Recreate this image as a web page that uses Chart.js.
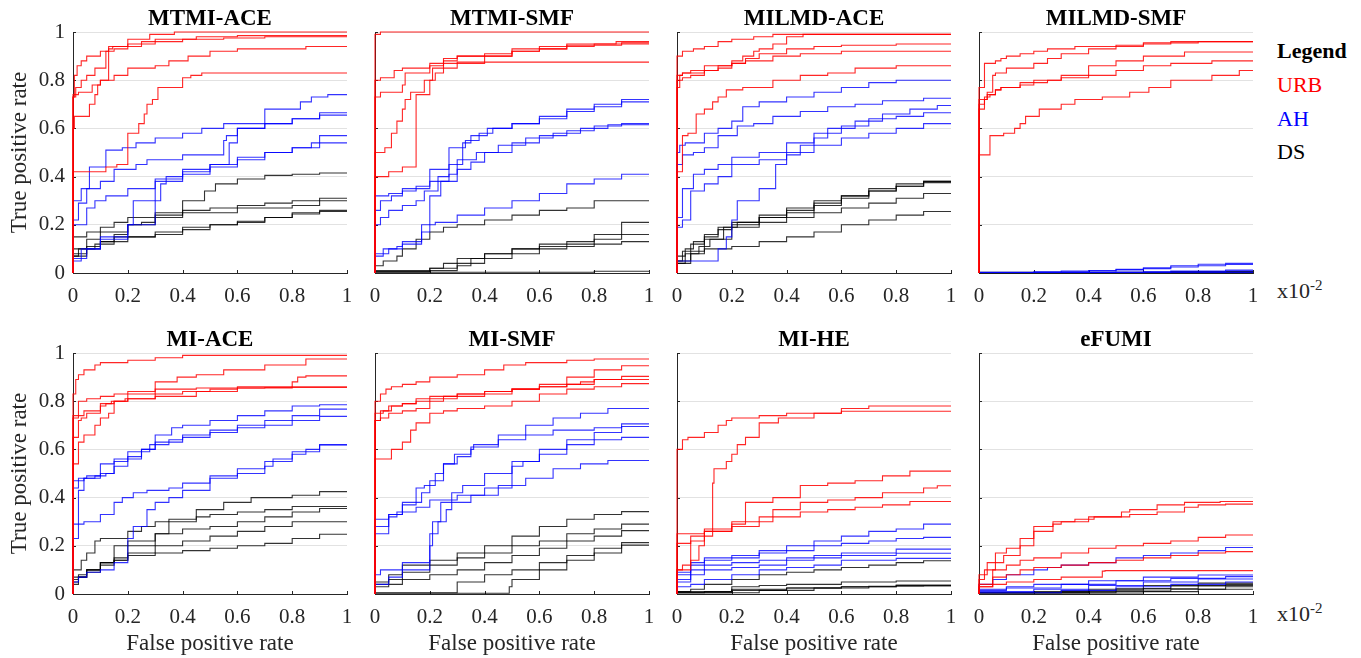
<!DOCTYPE html>
<html>
<head>
<meta charset="utf-8">
<script src="https://cdn.jsdelivr.net/npm/chart.js@4"></script>
<style>
body { margin: 0; width: 1361px; height: 658px; background: #fff; overflow: hidden; position: relative; font-family: "Liberation Serif", serif; }
canvas { position: absolute; }
.lbl { position: absolute; font-size: 22px; line-height: 1; white-space: nowrap; color: #000; }
.lbl sup { font-size: 15px; vertical-align: 8px; line-height: 0; }
</style>
</head>
<body>
<div class="lbl" style="left:1277px; top:40px; font-weight:bold;">Legend</div>
<div class="lbl" style="left:1277px; top:74px; color:#ff0000;">URB</div>
<div class="lbl" style="left:1277px; top:108px; color:#0000ff;">AH</div>
<div class="lbl" style="left:1277px; top:141px;">DS</div>
<div class="lbl" style="left:1277px; top:280px; color:#262626;">x10<sup>-2</sup></div>
<div class="lbl" style="left:1277px; top:603px; color:#262626;">x10<sup>-2</sup></div>
<script>
// each curve: x,y pairs where the ROC steps to a new true positive rate
const panelTitles = ['MTMI-ACE', 'MTMI-SMF', 'MILMD-ACE', 'MILMD-SMF', 'MI-ACE', 'MI-SMF', 'MI-HE', 'eFUMI'];
const axisTicks = [0, 0.2, 0.4, 0.6, 0.8, 1];

const mtmiAceURB = [
    [0,0.45, 0.005,0.73, 0.015,0.82, 0.03,0.86, 0.05,0.88, 0.1,0.9, 0.13,0.92, 0.2,0.94, 0.28,0.97, 0.37,0.99, 0.55,1.0, 1,1.0],
    [0,0.6, 0.01,0.73, 0.03,0.77, 0.05,0.8, 0.08,0.82, 0.12,0.85, 0.15,0.92, 0.2,0.93, 0.3,0.95, 0.45,0.97, 0.6,0.98, 1,0.985],
    [0,0.25, 0.005,0.6, 0.06,0.65, 0.08,0.7, 0.09,0.74, 0.1,0.78, 0.13,0.8, 0.145,0.93, 0.25,0.94, 0.4,0.96, 0.55,0.97, 0.7,0.975, 1,0.98],
    [0,0.72, 0.02,0.74, 0.07,0.75, 0.1,0.78, 0.15,0.8, 0.2,0.82, 0.3,0.85, 0.35,0.86, 0.42,0.88, 0.5,0.9, 0.6,0.92, 0.85,0.93, 0.93,0.94, 1,0.94],
    [0,0.41, 0.12,0.42, 0.16,0.44, 0.2,0.45, 0.24,0.58, 0.26,0.62, 0.27,0.66, 0.29,0.7, 0.31,0.72, 0.4,0.77, 0.43,0.81, 0.47,0.82, 0.5,0.83, 1,0.83]
];
const mtmiAceAH = [
    [0,0.26, 0.03,0.3, 0.06,0.35, 0.12,0.44, 0.18,0.51, 0.23,0.52, 0.3,0.54, 0.4,0.56, 0.47,0.58, 0.55,0.6, 0.7,0.62, 0.83,0.68, 0.87,0.71, 0.93,0.73, 1,0.74],
    [0,0.2, 0.02,0.22, 0.05,0.29, 0.1,0.35, 0.15,0.38, 0.23,0.43, 0.27,0.45, 0.4,0.47, 0.55,0.49, 0.56,0.55, 0.6,0.57, 0.7,0.6, 0.8,0.62, 0.9,0.64, 1,0.665],
    [0,0.02, 0.03,0.05, 0.1,0.1, 0.2,0.15, 0.3,0.2, 0.32,0.3, 0.34,0.37, 0.4,0.4, 0.5,0.43, 0.57,0.45, 0.6,0.54, 0.7,0.6, 0.8,0.62, 0.9,0.64, 1,0.655],
    [0,0.16, 0.05,0.2, 0.08,0.27, 0.12,0.3, 0.2,0.32, 0.3,0.35, 0.4,0.39, 0.5,0.42, 0.6,0.45, 0.7,0.48, 0.8,0.5, 0.87,0.52, 0.9,0.54, 1,0.57],
    [0,0.02, 0.05,0.06, 0.1,0.1, 0.2,0.14, 0.22,0.2, 0.3,0.3, 0.4,0.38, 0.5,0.41, 0.6,0.44, 0.7,0.47, 0.8,0.5, 0.9,0.52, 1,0.54]
];
const mtmiAceDS = [
    [0,0.05, 0.05,0.1, 0.1,0.14, 0.2,0.17, 0.3,0.2, 0.4,0.24, 0.48,0.3, 0.52,0.34, 0.6,0.37, 0.7,0.39, 0.8,0.405, 0.9,0.41, 1,0.415],
    [0,0.13, 0.05,0.15, 0.1,0.17, 0.15,0.19, 0.2,0.21, 0.3,0.23, 0.4,0.25, 0.5,0.26, 0.6,0.27, 0.7,0.28, 0.8,0.29, 0.9,0.3, 1,0.31],
    [0,0.02, 0.05,0.07, 0.1,0.1, 0.15,0.13, 0.2,0.16, 0.25,0.2, 0.3,0.21, 0.4,0.23, 0.6,0.25, 0.8,0.27, 0.9,0.28, 1,0.3],
    [0,0.03, 0.05,0.08, 0.1,0.11, 0.2,0.13, 0.3,0.15, 0.4,0.16, 0.5,0.18, 0.6,0.2, 0.7,0.21, 0.8,0.23, 0.9,0.25, 1,0.26],
    [0,0.06, 0.02,0.07, 0.08,0.1, 0.15,0.12, 0.3,0.15, 0.4,0.17, 0.5,0.19, 0.6,0.2, 0.7,0.215, 0.8,0.23, 0.9,0.245, 1,0.255]
];

const mtmiSmfURB = [
    [0,0.9, 0.02,0.99, 0.48,1.0, 1,1.0],
    [0,0.73, 0.02,0.8, 0.07,0.81, 0.1,0.84, 0.2,0.85, 0.25,0.87, 0.3,0.89, 0.4,0.9, 0.5,0.91, 0.6,0.93, 0.7,0.94, 0.88,0.95, 1,0.96],
    [0,0.625, 0.02,0.73, 0.1,0.75, 0.11,0.78, 0.2,0.83, 0.25,0.86, 0.3,0.88, 0.5,0.9, 0.6,0.92, 0.7,0.93, 0.9,0.945, 1,0.95],
    [0,0.42, 0.036,0.5, 0.06,0.52, 0.08,0.58, 0.1,0.63, 0.11,0.68, 0.13,0.72, 0.18,0.75, 0.21,0.8, 0.25,0.85, 0.3,0.87, 0.4,0.875, 1,0.875],
    [0,0.39, 0.05,0.4, 0.1,0.42, 0.15,0.44, 0.2,0.74, 0.22,0.8, 0.25,0.83, 0.3,0.85, 0.4,0.87, 0.5,0.9, 0.6,0.92, 0.7,0.93, 0.8,0.94, 0.9,0.95, 1,0.955]
];
const mtmiSmfAH = [
    [0,0.305, 0.05,0.32, 0.1,0.33, 0.2,0.35, 0.27,0.43, 0.33,0.52, 0.38,0.55, 0.43,0.58, 0.5,0.6, 0.6,0.62, 0.7,0.65, 0.8,0.68, 0.9,0.7, 1,0.72],
    [0,0.16, 0.02,0.26, 0.06,0.3, 0.1,0.32, 0.15,0.34, 0.2,0.36, 0.23,0.38, 0.27,0.4, 0.32,0.45, 0.35,0.54, 0.41,0.57, 0.5,0.6, 0.6,0.62, 0.7,0.64, 0.8,0.67, 0.9,0.69, 1,0.71],
    [0,0.04, 0.03,0.07, 0.08,0.1, 0.1,0.11, 0.17,0.13, 0.2,0.2, 0.24,0.32, 0.3,0.38, 0.35,0.43, 0.4,0.46, 0.5,0.5, 0.6,0.54, 0.7,0.57, 0.8,0.59, 0.9,0.61, 1,0.62],
    [0,0.14, 0.02,0.2, 0.05,0.23, 0.1,0.26, 0.15,0.28, 0.18,0.3, 0.23,0.34, 0.27,0.38, 0.3,0.41, 0.37,0.47, 0.45,0.5, 0.55,0.53, 0.65,0.56, 0.75,0.58, 0.85,0.6, 1,0.615],
    [0,0.06, 0.05,0.08, 0.1,0.1, 0.17,0.12, 0.2,0.17, 0.22,0.2, 0.3,0.21, 0.4,0.24, 0.5,0.27, 0.6,0.3, 0.7,0.33, 0.8,0.37, 0.9,0.39, 1,0.41]
];
const mtmiSmfDS = [
    [0,0.01, 0.03,0.03, 0.08,0.05, 0.1,0.07, 0.15,0.1, 0.2,0.14, 0.25,0.17, 0.3,0.19, 0.4,0.2, 0.5,0.22, 0.6,0.24, 0.7,0.26, 0.8,0.27, 0.9,0.3, 1,0.3],
    [0,0, 0.3,0.01, 0.35,0.03, 0.4,0.06, 0.5,0.08, 0.6,0.1, 0.7,0.11, 0.8,0.13, 0.9,0.16, 1,0.21],
    [0,0, 0.2,0.005, 0.25,0.02, 0.3,0.04, 0.4,0.06, 0.5,0.08, 0.6,0.1, 0.8,0.12, 0.9,0.14, 1,0.16],
    [0,0, 0.2,0.005, 0.3,0.02, 0.4,0.04, 0.5,0.06, 0.6,0.08, 0.7,0.1, 0.8,0.11, 0.9,0.12, 1,0.13],
    [0,0, 0.8,0.003, 1,0.007]
];

const milmdAceURB = [
    [0,0.88, 0.02,0.9, 0.06,0.92, 0.1,0.93, 0.15,0.94, 0.2,0.96, 0.28,0.97, 0.35,0.98, 0.46,0.99, 1,0.99],
    [0,0.4, 0.01,0.77, 0.02,0.82, 0.05,0.83, 0.1,0.84, 0.2,0.86, 0.24,0.88, 0.28,0.9, 0.3,0.92, 0.35,0.93, 0.4,0.95, 0.46,0.98, 0.55,0.99, 1,0.99],
    [0,0.78, 0.02,0.8, 0.05,0.81, 0.1,0.82, 0.15,0.84, 0.2,0.85, 0.25,0.87, 0.3,0.89, 0.4,0.91, 0.5,0.93, 0.6,0.94, 0.8,0.945, 1,0.95],
    [0,0.79, 0.02,0.82, 0.1,0.83, 0.15,0.84, 0.2,0.86, 0.25,0.87, 0.35,0.88, 0.45,0.9, 0.6,0.91, 0.8,0.92, 1,0.92],
    [0,0.38, 0.02,0.42, 0.04,0.57, 0.07,0.58, 0.1,0.66, 0.13,0.68, 0.15,0.71, 0.18,0.73, 0.24,0.76, 0.35,0.77, 0.45,0.8, 0.55,0.82, 0.65,0.83, 0.8,0.85, 0.9,0.86, 1,0.86]
];
const milmdAceAH = [
    [0,0.36, 0.01,0.5, 0.03,0.53, 0.1,0.54, 0.15,0.58, 0.2,0.6, 0.24,0.63, 0.3,0.69, 0.4,0.71, 0.5,0.73, 0.6,0.75, 0.7,0.77, 0.8,0.79, 1,0.8],
    [0,0.22, 0.02,0.45, 0.06,0.49, 0.1,0.5, 0.15,0.52, 0.22,0.57, 0.28,0.61, 0.35,0.62, 0.45,0.65, 0.55,0.67, 0.65,0.69, 0.75,0.7, 0.9,0.715, 1,0.725],
    [0,0.02, 0.15,0.05, 0.18,0.1, 0.2,0.15, 0.22,0.22, 0.3,0.3, 0.36,0.35, 0.4,0.45, 0.45,0.49, 0.5,0.53, 0.55,0.56, 0.65,0.6, 0.75,0.63, 0.85,0.66, 0.95,0.68, 1,0.695],
    [0,0.13, 0.02,0.23, 0.06,0.35, 0.1,0.41, 0.15,0.43, 0.2,0.45, 0.3,0.48, 0.4,0.5, 0.5,0.54, 0.6,0.58, 0.7,0.61, 0.8,0.64, 0.9,0.65, 1,0.665],
    [0,0.04, 0.02,0.19, 0.05,0.22, 0.1,0.34, 0.15,0.37, 0.2,0.4, 0.3,0.45, 0.4,0.47, 0.5,0.5, 0.6,0.53, 0.7,0.56, 0.8,0.58, 0.9,0.6, 1,0.62]
];
const milmdAceDS = [
    [0,0.02, 0.02,0.05, 0.05,0.09, 0.1,0.12, 0.15,0.15, 0.2,0.18, 0.3,0.2, 0.4,0.23, 0.5,0.26, 0.6,0.29, 0.7,0.32, 0.8,0.34, 0.9,0.36, 1,0.38],
    [0,0.03, 0.03,0.07, 0.06,0.1, 0.1,0.13, 0.15,0.16, 0.2,0.19, 0.3,0.21, 0.4,0.24, 0.5,0.27, 0.6,0.3, 0.7,0.32, 0.8,0.35, 0.9,0.37, 1,0.38],
    [0,0.01, 0.03,0.04, 0.08,0.08, 0.12,0.11, 0.17,0.14, 0.22,0.19, 0.3,0.21, 0.4,0.23, 0.5,0.25, 0.6,0.28, 0.7,0.31, 0.8,0.34, 0.9,0.36, 1,0.375],
    [0,0.01, 0.05,0.05, 0.1,0.09, 0.2,0.14, 0.3,0.19, 0.4,0.21, 0.5,0.23, 0.6,0.25, 0.7,0.27, 0.8,0.29, 0.9,0.31, 1,0.33],
    [0,0.005, 0.05,0.04, 0.1,0.08, 0.2,0.1, 0.3,0.11, 0.4,0.13, 0.5,0.15, 0.6,0.17, 0.7,0.2, 0.8,0.22, 0.9,0.24, 1,0.255]
];

const milmdSmfURB = [
    [0,0.72, 0.02,0.77, 0.06,0.87, 0.08,0.88, 0.1,0.89, 0.15,0.9, 0.2,0.91, 0.25,0.92, 0.35,0.93, 0.5,0.94, 0.6,0.945, 0.8,0.955, 1,0.96],
    [0,0.47, 0.03,0.72, 0.05,0.75, 0.06,0.82, 0.1,0.83, 0.2,0.85, 0.25,0.87, 0.3,0.89, 0.4,0.91, 0.5,0.93, 0.6,0.94, 0.7,0.95, 0.85,0.96, 1,0.96],
    [0,0.6, 0.02,0.7, 0.04,0.73, 0.06,0.74, 0.08,0.76, 0.15,0.77, 0.25,0.79, 0.3,0.8, 0.4,0.82, 0.5,0.86, 0.6,0.88, 0.75,0.9, 1,0.917],
    [0,0.58, 0.02,0.68, 0.03,0.72, 0.06,0.74, 0.08,0.76, 0.15,0.77, 0.2,0.78, 0.3,0.8, 0.4,0.81, 0.5,0.82, 0.6,0.84, 0.7,0.86, 0.85,0.87, 1,0.88],
    [0,0.4, 0.04,0.49, 0.09,0.57, 0.13,0.58, 0.15,0.6, 0.17,0.62, 0.22,0.65, 0.3,0.68, 0.35,0.7, 0.45,0.72, 0.55,0.73, 0.62,0.75, 0.7,0.77, 0.85,0.8, 0.95,0.82, 1,0.84]
];
const milmdSmfAH = [
    [0,0, 0.2,0.002, 0.4,0.005, 0.5,0.01, 0.6,0.015, 0.7,0.022, 0.8,0.03, 0.9,0.036, 1,0.04],
    [0,0, 0.3,0.003, 0.5,0.008, 0.6,0.013, 0.7,0.018, 0.8,0.025, 0.9,0.03, 1,0.035],
    [0,0, 0.5,0.002, 0.7,0.004, 0.9,0.008, 1,0.012],
    [0,0, 0.6,0.002, 0.9,0.005, 1,0.008],
    [0,0, 1,0.002]
];
const milmdSmfDS = [
    [0,0, 0.7,0.002, 1,0.006],
    [0,0, 0.8,0.003, 1,0.004],
    [0,0, 1,0.002],
    [0,0, 1,0.001],
    [0,0, 0.9,0.002, 1,0.003]
];

const miAceURB = [
    [0,0.81, 0.01,0.83, 0.02,0.89, 0.04,0.91, 0.08,0.93, 0.1,0.95, 0.2,0.96, 0.3,0.97, 0.4,0.98, 0.55,0.99, 1,0.99],
    [0,0.7, 0.02,0.73, 0.05,0.8, 0.1,0.81, 0.15,0.82, 0.3,0.83, 0.38,0.88, 0.45,0.9, 0.55,0.91, 0.7,0.93, 0.85,0.95, 0.9,0.975, 1,0.975],
    [0,0.61, 0.02,0.65, 0.03,0.72, 0.05,0.73, 0.1,0.75, 0.12,0.78, 0.15,0.79, 0.2,0.8, 0.3,0.81, 0.4,0.83, 0.5,0.84, 0.6,0.85, 0.8,0.86, 0.82,0.88, 0.85,0.9, 1,0.905],
    [0,0.36, 0.02,0.54, 0.04,0.63, 0.08,0.66, 0.1,0.7, 0.13,0.73, 0.15,0.75, 0.19,0.8, 0.3,0.81, 0.45,0.82, 0.6,0.84, 0.8,0.855, 1,0.86],
    [0,0.35, 0.04,0.74, 0.1,0.76, 0.14,0.79, 0.2,0.8, 0.3,0.84, 0.45,0.85, 0.7,0.855, 1,0.857]
];
const miAceAH = [
    [0,0.22, 0.02,0.44, 0.05,0.48, 0.1,0.49, 0.15,0.5, 0.2,0.55, 0.25,0.57, 0.3,0.6, 0.36,0.66, 0.4,0.69, 0.5,0.7, 0.6,0.72, 0.7,0.74, 0.8,0.76, 0.9,0.78, 1,0.785],
    [0,0.25, 0.04,0.47, 0.1,0.48, 0.15,0.54, 0.2,0.56, 0.28,0.59, 0.35,0.62, 0.4,0.64, 0.5,0.66, 0.6,0.68, 0.7,0.7, 0.8,0.72, 0.9,0.74, 1,0.767],
    [0,0.13, 0.02,0.23, 0.04,0.43, 0.08,0.48, 0.12,0.49, 0.15,0.5, 0.2,0.53, 0.25,0.56, 0.3,0.6, 0.4,0.63, 0.5,0.65, 0.6,0.67, 0.7,0.69, 0.8,0.7, 0.9,0.72, 1,0.737],
    [0,0.26, 0.04,0.29, 0.1,0.3, 0.15,0.33, 0.18,0.38, 0.22,0.4, 0.27,0.42, 0.35,0.43, 0.4,0.44, 0.5,0.46, 0.6,0.49, 0.7,0.52, 0.8,0.55, 0.85,0.58, 0.9,0.6, 1,0.62],
    [0,0.02, 0.02,0.05, 0.05,0.07, 0.1,0.09, 0.15,0.1, 0.2,0.13, 0.22,0.23, 0.27,0.28, 0.3,0.35, 0.35,0.38, 0.4,0.4, 0.5,0.43, 0.6,0.48, 0.7,0.5, 0.73,0.53, 0.8,0.56, 0.9,0.59, 1,0.618]
];
const miAceDS = [
    [0,0.07, 0.03,0.1, 0.05,0.14, 0.08,0.17, 0.1,0.22, 0.2,0.23, 0.25,0.26, 0.3,0.28, 0.35,0.3, 0.45,0.31, 0.55,0.35, 0.65,0.38, 0.8,0.4, 0.9,0.41, 1,0.425],
    [0,0.04, 0.05,0.07, 0.1,0.1, 0.15,0.13, 0.2,0.14, 0.3,0.2, 0.35,0.25, 0.45,0.3, 0.5,0.32, 0.6,0.33, 0.7,0.34, 0.8,0.35, 1,0.363],
    [0,0.01, 0.02,0.04, 0.05,0.07, 0.1,0.1, 0.15,0.13, 0.2,0.2, 0.3,0.22, 0.4,0.25, 0.5,0.27, 0.6,0.28, 0.7,0.3, 0.8,0.32, 0.9,0.34, 1,0.355],
    [0,0, 0.02,0.06, 0.05,0.08, 0.1,0.1, 0.15,0.13, 0.2,0.15, 0.3,0.17, 0.4,0.2, 0.5,0.22, 0.6,0.24, 0.7,0.26, 0.8,0.28, 1,0.3],
    [0,0, 0.02,0.05, 0.05,0.07, 0.1,0.09, 0.15,0.12, 0.2,0.14, 0.3,0.16, 0.4,0.17, 0.5,0.18, 0.6,0.19, 0.7,0.2, 0.8,0.21, 0.9,0.23, 1,0.248]
];

const miSmfURB = [
    [0,0.68, 0.02,0.8, 0.04,0.83, 0.06,0.85, 0.1,0.86, 0.15,0.87, 0.2,0.88, 0.3,0.9, 0.4,0.91, 0.47,0.93, 0.55,0.95, 0.7,0.96, 0.8,0.97, 1,0.975],
    [0,0.66, 0.02,0.72, 0.05,0.76, 0.1,0.78, 0.15,0.79, 0.2,0.8, 0.3,0.82, 0.4,0.83, 0.5,0.84, 0.6,0.85, 0.7,0.87, 0.8,0.9, 0.9,0.93, 1,0.947],
    [0,0.68, 0.03,0.75, 0.06,0.76, 0.1,0.78, 0.15,0.79, 0.25,0.81, 0.3,0.82, 0.4,0.83, 0.5,0.84, 0.6,0.85, 0.7,0.86, 0.75,0.87, 0.8,0.88, 0.9,0.89, 1,0.903],
    [0,0.7, 0.02,0.72, 0.05,0.73, 0.1,0.75, 0.15,0.76, 0.2,0.77, 0.25,0.8, 0.3,0.81, 0.4,0.82, 0.5,0.83, 0.6,0.85, 0.7,0.86, 0.8,0.87, 1,0.89],
    [0,0.44, 0.06,0.56, 0.1,0.6, 0.13,0.63, 0.15,0.68, 0.2,0.71, 0.25,0.75, 0.3,0.76, 0.4,0.77, 0.5,0.78, 0.6,0.8, 0.7,0.83, 0.8,0.85, 0.9,0.86, 1,0.873]
];
const miSmfAH = [
    [0,0.3, 0.05,0.31, 0.1,0.33, 0.15,0.37, 0.18,0.44, 0.22,0.45, 0.25,0.5, 0.3,0.54, 0.35,0.57, 0.36,0.6, 0.45,0.62, 0.55,0.66, 0.65,0.7, 0.75,0.73, 0.85,0.75, 1,0.77],
    [0,0.22, 0.05,0.28, 0.1,0.33, 0.17,0.38, 0.2,0.42, 0.25,0.47, 0.29,0.54, 0.35,0.58, 0.45,0.61, 0.55,0.64, 0.65,0.66, 0.8,0.68, 0.9,0.69, 1,0.706],
    [0,0.19, 0.05,0.25, 0.08,0.32, 0.15,0.34, 0.2,0.36, 0.3,0.39, 0.4,0.41, 0.5,0.44, 0.54,0.53, 0.6,0.55, 0.7,0.6, 0.8,0.64, 0.9,0.67, 1,0.695],
    [0,0.07, 0.02,0.08, 0.1,0.1, 0.2,0.13, 0.21,0.2, 0.24,0.3, 0.28,0.38, 0.32,0.42, 0.4,0.45, 0.5,0.5, 0.6,0.55, 0.7,0.58, 0.8,0.62, 0.9,0.64, 1,0.65],
    [0,0.02, 0.05,0.04, 0.1,0.07, 0.2,0.1, 0.23,0.25, 0.26,0.3, 0.28,0.35, 0.35,0.38, 0.45,0.41, 0.55,0.45, 0.65,0.48, 0.75,0.52, 0.85,0.54, 1,0.554]
];
const miSmfDS = [
    [0,0.02, 0.05,0.05, 0.1,0.08, 0.2,0.12, 0.3,0.14, 0.4,0.17, 0.5,0.2, 0.6,0.24, 0.7,0.28, 0.8,0.31, 0.9,0.33, 1,0.342],
    [0,0.01, 0.05,0.03, 0.1,0.06, 0.2,0.09, 0.3,0.12, 0.4,0.15, 0.5,0.17, 0.6,0.2, 0.7,0.22, 0.8,0.25, 0.9,0.27, 1,0.29],
    [0,0.01, 0.1,0.04, 0.2,0.06, 0.3,0.08, 0.4,0.1, 0.5,0.13, 0.6,0.16, 0.7,0.19, 0.8,0.22, 0.9,0.24, 1,0.263],
    [0,0, 0.3,0.005, 0.4,0.05, 0.5,0.08, 0.6,0.1, 0.7,0.13, 0.8,0.16, 0.9,0.19, 1,0.213],
    [0,0, 0.49,0.003, 0.5,0.03, 0.6,0.06, 0.7,0.1, 0.8,0.14, 0.9,0.17, 1,0.203]
];

const miHeURB = [
    [0,0.57, 0.02,0.6, 0.04,0.64, 0.1,0.65, 0.15,0.67, 0.18,0.7, 0.2,0.72, 0.3,0.73, 0.4,0.74, 0.6,0.75, 0.7,0.77, 0.8,0.78, 1,0.78],
    [0,0.08, 0.05,0.1, 0.08,0.14, 0.1,0.2, 0.13,0.24, 0.135,0.46, 0.18,0.52, 0.2,0.55, 0.22,0.58, 0.25,0.62, 0.3,0.65, 0.37,0.71, 0.5,0.73, 0.6,0.75, 1,0.758],
    [0,0.21, 0.1,0.25, 0.2,0.27, 0.25,0.29, 0.35,0.38, 0.45,0.4, 0.55,0.45, 0.65,0.46, 0.75,0.47, 0.85,0.49, 0.9,0.51, 1,0.51],
    [0,0.2, 0.05,0.21, 0.1,0.24, 0.2,0.26, 0.3,0.3, 0.35,0.32, 0.45,0.35, 0.55,0.38, 0.65,0.39, 0.75,0.4, 0.9,0.42, 0.95,0.44, 1,0.449],
    [0,0.02, 0.02,0.1, 0.05,0.12, 0.1,0.22, 0.2,0.26, 0.3,0.28, 0.35,0.3, 0.45,0.32, 0.55,0.34, 0.65,0.35, 0.75,0.36, 0.85,0.37, 1,0.384]
];
const miHeAH = [
    [0,0.07, 0.05,0.09, 0.1,0.13, 0.2,0.15, 0.3,0.16, 0.4,0.18, 0.5,0.2, 0.6,0.22, 0.7,0.24, 0.8,0.26, 0.9,0.27, 1,0.29],
    [0,0.06, 0.05,0.08, 0.1,0.12, 0.2,0.14, 0.3,0.15, 0.4,0.17, 0.5,0.18, 0.6,0.2, 0.7,0.21, 0.8,0.22, 0.9,0.23, 1,0.235],
    [0,0.03, 0.05,0.06, 0.1,0.1, 0.2,0.12, 0.3,0.13, 0.4,0.14, 0.5,0.15, 0.6,0.16, 0.8,0.17, 1,0.186],
    [0,0.02, 0.05,0.05, 0.1,0.08, 0.2,0.1, 0.3,0.11, 0.4,0.12, 0.5,0.14, 0.6,0.15, 0.8,0.16, 1,0.169],
    [0,0.01, 0.05,0.03, 0.1,0.04, 0.2,0.06, 0.3,0.08, 0.4,0.1, 0.5,0.11, 0.6,0.12, 0.8,0.14, 1,0.148]
];
const miHeDS = [
    [0,0, 0.05,0.01, 0.1,0.02, 0.2,0.04, 0.3,0.06, 0.4,0.08, 0.5,0.09, 0.6,0.1, 0.7,0.11, 0.8,0.12, 0.9,0.13, 1,0.138],
    [0,0, 0.1,0.005, 0.2,0.01, 0.3,0.03, 0.4,0.035, 0.6,0.04, 0.8,0.05, 1,0.054],
    [0,0, 0.2,0.005, 0.4,0.015, 0.6,0.025, 0.8,0.03, 1,0.037],
    [0,0, 0.2,0.01, 0.4,0.02, 0.6,0.025, 0.8,0.03, 1,0.035],
    [0,0, 0.3,0.005, 0.5,0.015, 0.7,0.025, 0.9,0.032, 1,0.033]
];

const efumiURB = [
    [0,0.07, 0.03,0.08, 0.06,0.13, 0.1,0.17, 0.15,0.19, 0.2,0.23, 0.27,0.28, 0.3,0.3, 0.4,0.3, 0.52,0.32, 0.55,0.34, 0.65,0.35, 0.75,0.37, 0.88,0.38, 1,0.384],
    [0,0.05, 0.02,0.06, 0.06,0.1, 0.09,0.13, 0.15,0.16, 0.2,0.2, 0.27,0.26, 0.3,0.29, 0.35,0.3, 0.42,0.31, 0.55,0.32, 0.65,0.33, 0.75,0.34, 0.8,0.36, 0.9,0.37, 1,0.373],
    [0,0.02, 0.05,0.04, 0.1,0.1, 0.15,0.12, 0.2,0.14, 0.3,0.15, 0.4,0.17, 0.5,0.19, 0.6,0.2, 0.7,0.21, 0.8,0.22, 0.9,0.235, 1,0.245],
    [0,0.01, 0.05,0.03, 0.1,0.07, 0.15,0.08, 0.2,0.1, 0.3,0.11, 0.4,0.12, 0.5,0.13, 0.6,0.14, 0.7,0.15, 0.8,0.16, 0.9,0.17, 1,0.176],
    [0,0.01, 0.05,0.03, 0.1,0.04, 0.2,0.05, 0.3,0.06, 0.45,0.07, 0.46,0.095, 1,0.097]
];
const efumiAH = [
    [0,0.02, 0.05,0.04, 0.1,0.06, 0.2,0.08, 0.25,0.1, 0.3,0.11, 0.4,0.12, 0.5,0.13, 0.6,0.15, 0.7,0.16, 0.8,0.17, 0.9,0.18, 1,0.193],
    [0,0.01, 0.1,0.02, 0.2,0.03, 0.4,0.04, 0.6,0.055, 0.8,0.07, 1,0.079],
    [0,0.005, 0.1,0.015, 0.3,0.025, 0.5,0.04, 0.7,0.055, 0.9,0.065, 1,0.072],
    [0,0, 0.2,0.01, 0.4,0.02, 0.6,0.035, 0.8,0.05, 1,0.062],
    [0,0, 0.3,0.005, 0.5,0.015, 0.7,0.03, 0.9,0.04, 1,0.05]
];
const efumiDS = [
    [0,0, 0.2,0.005, 0.4,0.01, 0.6,0.02, 0.8,0.035, 1,0.045],
    [0,0, 0.3,0.005, 0.5,0.012, 0.7,0.022, 0.9,0.033, 1,0.04],
    [0,0, 0.4,0.005, 0.6,0.012, 0.8,0.022, 1,0.035],
    [0,0, 0.5,0.005, 0.7,0.012, 0.9,0.02, 1,0.03],
    [0,0, 0.6,0.004, 0.8,0.01, 1,0.02]
];

const panelCurves = [
    [mtmiAceURB, mtmiAceAH, mtmiAceDS],
    [mtmiSmfURB, mtmiSmfAH, mtmiSmfDS],
    [milmdAceURB, milmdAceAH, milmdAceDS],
    [milmdSmfURB, milmdSmfAH, milmdSmfDS],
    [miAceURB, miAceAH, miAceDS],
    [miSmfURB, miSmfAH, miSmfDS],
    [miHeURB, miHeAH, miHeDS],
    [efumiURB, efumiAH, efumiDS]
];
const groupColors = ['rgba(255,0,0,0.85)', 'rgba(0,0,255,0.8)', 'rgba(0,0,0,0.8)'];

// layout of the 2x4 grid (plot area positions in the page)
const colLeft = [73, 375, 677, 979];
const rowTop = [32, 353];
const plotW = 274, plotH = 241;
const titleH = 30;

const serif = '"Liberation Serif", "Times New Roman", serif';
const axisColor = '#262626';
const fmtTick = v => String(Math.round(v * 10) / 10);

// MATLAB style inward tick marks
const inwardTicks = {
    id: 'inwardTicks',
    beforeDatasetsDraw(chart) {
        const { ctx, chartArea: a, scales: { x, y } } = chart;
        ctx.save();
        ctx.strokeStyle = axisColor;
        ctx.lineWidth = 1;
        ctx.beginPath();
        axisTicks.forEach(v => {
            const px = Math.round(x.getPixelForValue(v)) + 0.5;
            ctx.moveTo(px, a.bottom);
            ctx.lineTo(px, a.bottom - 3);
            const py = Math.round(y.getPixelForValue(v)) + 0.5;
            ctx.moveTo(a.left, py);
            ctx.lineTo(a.left + 3, py);
        });
        ctx.stroke();
        ctx.restore();
    }
};

const toPoints = flat => {
    const pts = [{ x: 0, y: 0 }];
    for (let i = 0; i < flat.length; i += 2) pts.push({ x: flat[i], y: flat[i + 1] });
    return pts;
};

panelTitles.forEach((title, i) => {
    const row = Math.floor(i / 4), col = i % 4;
    const yW = col === 0 ? 73 : 20;
    const xH = row === 0 ? 40 : 75;
    const padRight = 20;

    const canvas = document.createElement('canvas');
    canvas.width = yW + plotW + padRight;
    canvas.height = titleH + plotH + xH;
    canvas.style.left = (colLeft[col] - yW) + 'px';
    canvas.style.top = (rowTop[row] - titleH) + 'px';
    document.body.appendChild(canvas);

    const datasets = [];
    panelCurves[i].forEach((group, g) => {
        group.forEach(curve => {
            datasets.push({
                data: toPoints(curve),
                borderColor: groupColors[g],
                borderWidth: 1.1,
                pointRadius: 0,
                stepped: 'after',
                fill: false,
                clip: 3
            });
        });
    });

    new Chart(canvas, {
        type: 'line',
        data: { datasets },
        plugins: [inwardTicks],
        options: {
            responsive: false,
            animation: false,
            devicePixelRatio: 1,
            layout: { padding: { left: 0, right: padRight, top: 0, bottom: 0 } },
            plugins: {
                legend: { display: false },
                tooltip: { enabled: false },
                title: {
                    display: true,
                    fullSize: false, // centre the title over the plot area
                    text: title,
                    color: '#000',
                    font: { family: serif, size: 23, weight: 'bold', lineHeight: 1 },
                    padding: { top: 6, bottom: 1 }
                }
            },
            scales: {
                x: {
                    type: 'linear',
                    min: 0,
                    max: 1,
                    afterFit: s => { s.height = xH; },
                    grid: { display: false },
                    border: { display: true, color: axisColor, width: 1 },
                    ticks: {
                        stepSize: 0.2,
                        padding: 3,
                        color: axisColor,
                        maxRotation: 0,
                        font: { family: serif, size: 21 },
                        callback: fmtTick
                    },
                    title: {
                        display: row === 1,
                        text: 'False positive rate',
                        color: axisColor,
                        font: { family: serif, size: 23 },
                        padding: { top: 0, bottom: 11 }
                    }
                },
                y: {
                    type: 'linear',
                    min: 0,
                    max: 1,
                    afterFit: s => { s.width = yW; },
                    grid: {
                        color: ctx => ctx.tick && ctx.tick.value === 0 ? 'rgba(0,0,0,0)' : '#e2e2e2',
                        drawTicks: false
                    },
                    border: { display: true, color: axisColor, width: 1 },
                    ticks: {
                        display: col === 0,
                        stepSize: 0.2,
                        padding: 8,
                        color: axisColor,
                        font: { family: serif, size: 21 },
                        callback: fmtTick
                    },
                    title: {
                        display: col === 0,
                        text: 'True positive rate',
                        color: axisColor,
                        font: { family: serif, size: 23 },
                        padding: { top: 6, bottom: 0 }
                    }
                }
            }
        }
    });
});
</script>
</body>
</html>
